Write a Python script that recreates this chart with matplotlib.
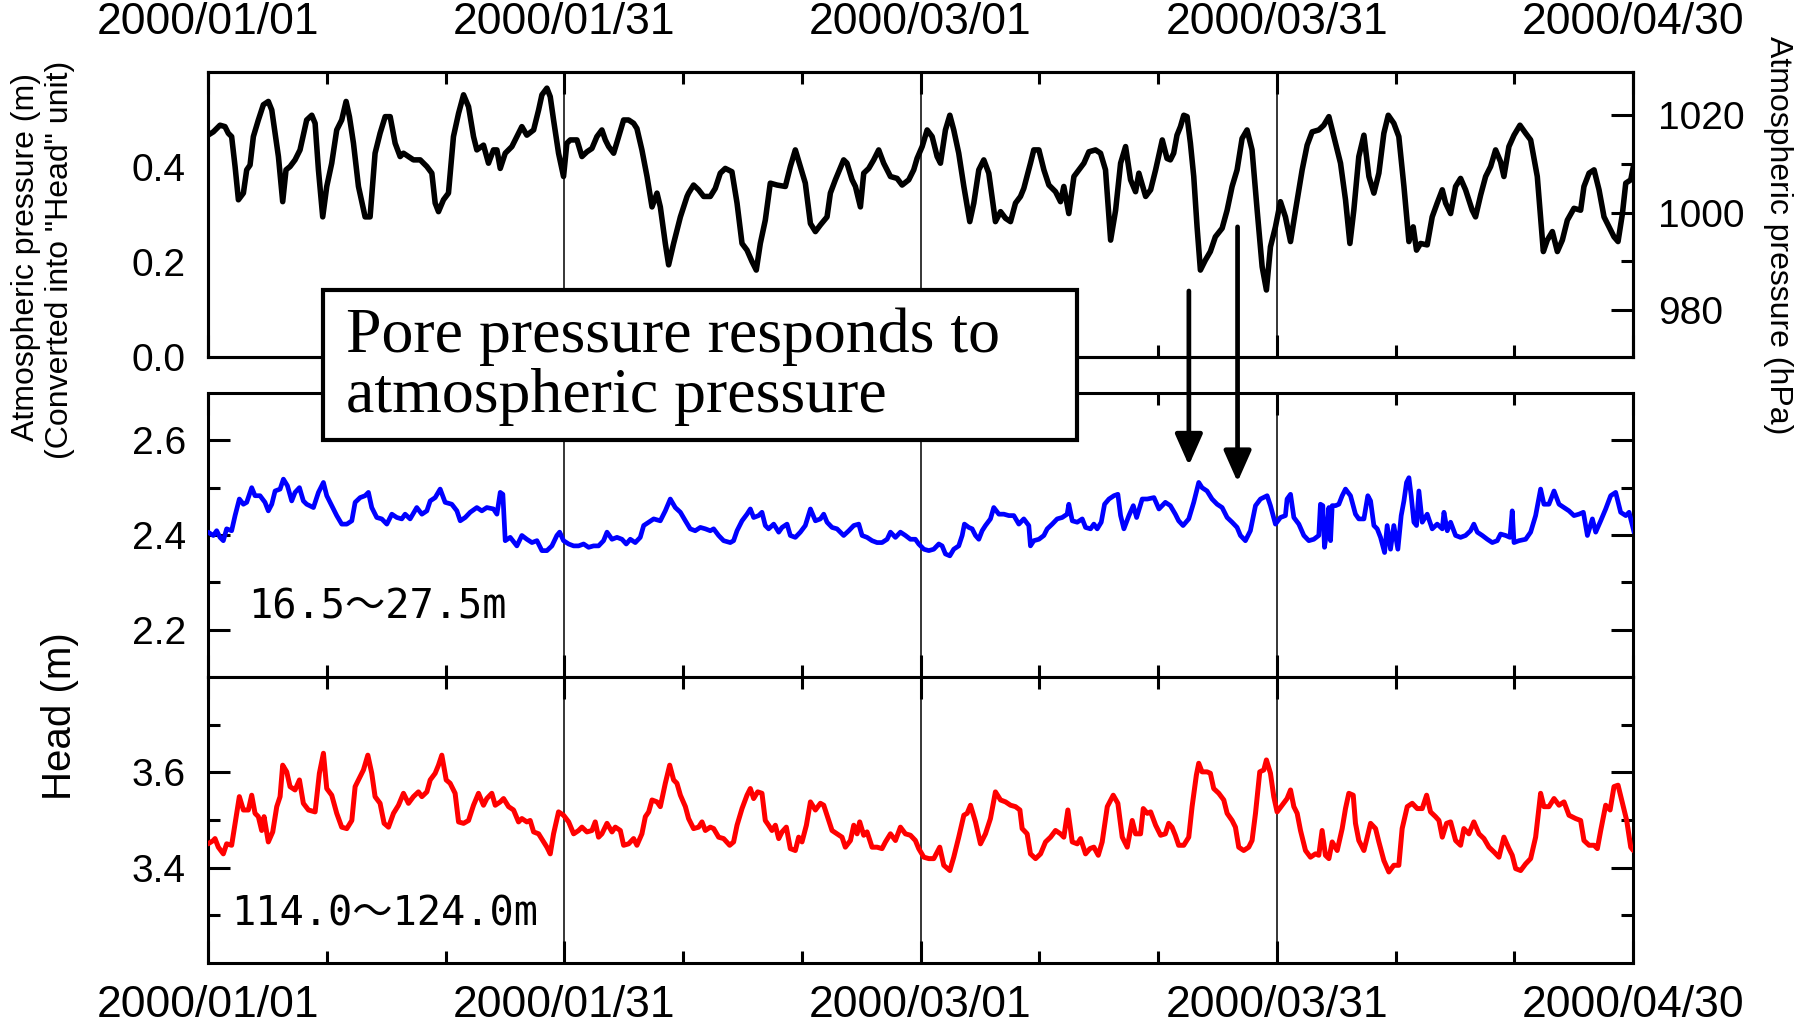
import matplotlib.pyplot as plt
from matplotlib.patches import Rectangle, ConnectionPatch
from matplotlib.ticker import FormatStrFormatter

plt.rcParams['font.family'] = ['Liberation Sans', 'DejaVu Sans']

# x axis: days since 2000/01/01
date_pos = [0, 30, 60, 90, 120]
date_labels = ['2000/01/01', '2000/01/31', '2000/03/01', '2000/03/31', '2000/04/30']
minor_pos = [10, 20, 40, 50, 70, 80, 100, 110]

# atmospheric pressure, converted into head (m)
atm_days = [
    0.0, 0.45, 1.01, 1.43, 1.71, 1.99, 2.28, 2.56, 2.98, 3.26, 3.54, 3.82, 4.24, 4.66, 5.08, 5.37,
    5.65, 5.93, 6.29, 6.57, 6.91, 7.33, 7.75, 8.31, 8.74, 9.02, 9.30, 9.66, 10.0, 10.42, 10.84,
    11.26, 11.63, 11.91, 12.25, 12.67, 13.23, 13.65, 14.07, 14.49, 14.92, 15.34, 15.76, 16.18,
    16.46, 16.88, 17.30, 17.87, 18.43, 18.85, 19.13, 19.41, 19.83, 20.25, 20.67, 21.10, 21.52,
    21.94, 22.36, 22.64, 23.20, 23.62, 24.04, 24.33, 24.61, 25.03, 25.59, 26.01, 26.43, 26.85,
    27.42, 27.84, 28.12, 28.54, 28.82, 29.10, 29.52, 29.94, 30.22, 30.51, 31.07, 31.49, 31.91,
    32.33, 32.75, 33.17, 33.46, 33.74, 34.16, 34.58, 35.0, 35.42, 35.84, 36.12, 36.54, 36.97,
    37.39, 37.81, 38.09, 38.51, 38.79, 39.21, 39.78, 40.34,
    40.47, 40.89, 41.31, 41.74, 42.30, 42.72, 43.14, 43.56, 44.12, 44.55, 44.97, 45.39, 45.81,
    46.17, 46.51, 46.93, 47.35, 47.92, 48.62, 49.04, 49.46, 49.88, 50.30, 50.73, 51.15, 51.57,
    52.13, 52.41, 52.83, 53.53, 53.81, 54.24, 54.52, 54.94, 55.22, 55.64, 56.06, 56.48, 56.90,
    57.47, 58.03, 58.45, 59.01, 59.43, 59.71, 60.14, 60.56, 60.98, 61.40, 61.68, 62.10, 62.47,
    62.80, 63.22, 63.65, 64.15, 64.49, 64.91, 65.33, 65.75, 66.31, 66.74, 67.16, 67.58, 68.00,
    68.42, 68.70, 69.26, 69.54, 69.97, 70.39, 70.81, 71.37, 71.79, 72.07, 72.49, 72.92, 73.34,
    73.76, 74.18, 74.74, 75.16, 75.58, 76.01, 76.43, 76.85, 77.27, 77.69, 78.11, 78.39, 78.96,
    79.38, 79.80, 80.36,
    80.76, 81.04, 81.32, 81.60, 81.89, 82.17, 82.45, 82.73, 83.01, 83.29, 83.57, 83.99, 84.41,
    84.83, 85.40, 85.82, 86.24, 86.66, 87.08, 87.50, 87.92, 88.35, 88.77, 89.13, 89.47, 89.89,
    90.31, 90.73, 91.16, 91.58, 92.14, 92.56, 92.98, 93.54, 93.96, 94.39, 94.81, 95.37, 95.79,
    96.16, 96.49, 96.91, 97.34, 97.76, 98.18, 98.60, 99.02, 99.39, 99.86, 100.28, 100.71, 101.13,
    101.49, 101.77, 102.11, 102.67, 103.09, 103.51, 103.94, 104.22, 104.64, 105.06, 105.48,
    105.90, 106.46, 106.74, 107.17, 107.59, 108.01, 108.43, 108.85, 109.13, 109.55, 109.98,
    110.48, 110.96, 111.38, 111.94, 112.45, 112.78, 113.21, 113.63, 114.05, 114.47, 115.03,
    115.59, 115.87, 116.30, 116.72, 117.14, 117.56, 117.98, 118.40, 118.74, 119.11, 119.39,
    119.81, 120.03]
atm_head = [
    0.467, 0.474, 0.488, 0.485, 0.471, 0.464, 0.401, 0.331, 0.345, 0.394, 0.404, 0.464, 0.499,
    0.531, 0.538, 0.520, 0.471, 0.422, 0.327, 0.394, 0.401, 0.415, 0.436, 0.499, 0.509, 0.492,
    0.394, 0.295, 0.359, 0.408, 0.478, 0.499, 0.538, 0.506, 0.450, 0.359, 0.295, 0.295, 0.429,
    0.471, 0.506, 0.506, 0.450, 0.422, 0.429, 0.422, 0.415, 0.415, 0.401, 0.387, 0.324, 0.306,
    0.331, 0.345, 0.464, 0.513, 0.552, 0.527, 0.464, 0.436, 0.446, 0.408, 0.436, 0.436, 0.397,
    0.429, 0.443, 0.464, 0.485, 0.467, 0.478, 0.520, 0.552, 0.566, 0.548, 0.499, 0.429, 0.380,
    0.450, 0.457, 0.457, 0.422, 0.432, 0.439, 0.464, 0.478, 0.457, 0.443, 0.429, 0.464, 0.499,
    0.499, 0.492, 0.481, 0.436, 0.380, 0.316, 0.345, 0.316, 0.239, 0.194, 0.239, 0.295, 0.338,
    0.345, 0.362, 0.352, 0.338, 0.338, 0.355, 0.387, 0.397, 0.390, 0.324, 0.239, 0.225, 0.201,
    0.183, 0.239, 0.288, 0.366, 0.362, 0.359, 0.401, 0.436, 0.401, 0.366, 0.281, 0.264, 0.278,
    0.295, 0.345, 0.373, 0.415, 0.408, 0.373, 0.359, 0.316, 0.387, 0.397, 0.415, 0.436, 0.408,
    0.380, 0.376, 0.362, 0.373, 0.394, 0.418, 0.443, 0.478, 0.464, 0.422, 0.408, 0.478, 0.509,
    0.478, 0.429, 0.359, 0.285, 0.324, 0.394, 0.415, 0.387, 0.285, 0.306, 0.292, 0.285, 0.324,
    0.338, 0.355, 0.408, 0.436, 0.436, 0.394, 0.362, 0.348, 0.327, 0.359, 0.302, 0.380, 0.394,
    0.408, 0.432, 0.436, 0.429, 0.394, 0.246, 0.309, 0.408, 0.443, 0.373, 0.348, 0.387, 0.338,
    0.352, 0.394, 0.457,
    0.418, 0.415, 0.429, 0.467, 0.485, 0.509, 0.506, 0.450, 0.380, 0.274, 0.183, 0.204, 0.222,
    0.253, 0.271, 0.309, 0.359, 0.394, 0.460, 0.478, 0.436, 0.309, 0.190, 0.141, 0.232, 0.274,
    0.327, 0.295, 0.243, 0.309, 0.394, 0.446, 0.474, 0.478, 0.488, 0.506, 0.464, 0.408, 0.331,
    0.239, 0.309, 0.422, 0.467, 0.380, 0.345, 0.387, 0.471, 0.509, 0.492, 0.464, 0.359, 0.243,
    0.274, 0.225, 0.239, 0.236, 0.295, 0.324, 0.352, 0.324, 0.302, 0.359, 0.376, 0.352, 0.309,
    0.295, 0.341, 0.380, 0.401, 0.436, 0.411, 0.380, 0.443, 0.467, 0.488, 0.471, 0.457, 0.380,
    0.222, 0.246, 0.264, 0.222, 0.246, 0.288, 0.313, 0.309, 0.359, 0.387, 0.394, 0.352, 0.295,
    0.274, 0.253, 0.243, 0.302, 0.366, 0.373, 0.401]

# head at 16.5-27.5 m
shallow_days = [
    0.0, 0.45, 0.73, 1.01, 1.29, 1.57, 1.99, 2.28, 2.64, 2.98, 3.26, 3.68, 3.96, 4.38, 4.80, 5.08,
    5.37, 5.65, 6.07, 6.35, 6.69, 7.05, 7.33, 7.70, 8.03, 8.31, 8.88, 9.30, 9.72, 10.0, 10.42,
    10.84, 11.26, 11.69, 12.11, 12.39, 12.81, 13.23, 13.51, 13.79, 14.21, 14.63, 15.06, 15.48,
    15.90, 16.32, 16.60, 17.02, 17.58, 18.01, 18.43, 18.71, 19.13, 19.55, 19.97, 20.53, 20.96,
    21.24, 21.66, 22.08, 22.64, 23.06, 23.48, 24.04, 24.33, 24.61, 24.83, 25.03, 25.45, 26.01,
    26.43, 26.85, 27.28, 27.70, 28.12, 28.54, 28.96, 29.38, 29.61, 29.94, 30.37, 30.79, 31.21,
    31.63, 32.05, 32.47, 32.89, 33.31, 33.60, 34.02, 34.44, 34.86, 35.22, 35.56, 35.98, 36.40,
    36.69, 37.11, 37.53, 38.09, 38.51, 38.93, 39.35, 39.78, 40.20,
    40.61, 41.03, 41.46, 41.88, 42.30, 42.58, 43.00, 43.42, 43.98, 44.26, 44.55, 44.97, 45.39,
    45.67, 45.95, 46.37, 46.65, 46.93, 47.21, 47.64, 48.06, 48.34, 48.76, 49.04, 49.46, 49.88,
    50.30, 50.73, 51.15, 51.57, 51.85, 52.13, 52.55, 52.97, 53.53, 53.96, 54.38, 54.80, 55.08,
    55.50, 55.92, 56.34, 56.76, 57.19, 57.47, 57.89, 58.31, 58.73, 59.15, 59.57, 59.85, 60.28,
    60.70, 61.12, 61.54, 61.82, 62.10, 62.47, 62.80, 63.22, 63.51, 63.70, 64.07, 64.35, 64.63,
    64.91, 65.19, 65.47, 65.89, 66.17, 66.60, 67.02, 67.44, 67.86, 68.28, 68.70, 69.12, 69.26,
    69.54, 69.97, 70.39, 70.67, 71.09, 71.51, 71.93, 72.35, 72.49, 72.78, 73.20, 73.62, 73.90,
    74.32, 74.60, 74.88, 75.22, 75.50, 75.87, 76.29, 76.62, 76.85, 77.13, 77.55, 77.92, 78.20,
    78.67, 79.10, 79.66, 80.08,
    80.62, 81.04, 81.46, 81.74, 82.11, 82.59, 83.01, 83.43, 83.71, 84.13, 84.55, 84.98, 85.40,
    85.82, 86.24, 86.66, 86.94, 87.36, 87.78, 88.21, 88.63, 89.19, 89.47, 89.89, 90.31, 90.73,
    90.87, 91.16, 91.44, 91.86, 92.28, 92.70, 93.12, 93.54, 93.68, 93.88, 94.02, 94.24, 94.39,
    94.53, 94.67, 94.95, 95.23, 95.51, 95.79, 96.21, 96.63, 96.91, 97.34, 97.67, 97.90, 98.18,
    98.46, 98.74, 99.08, 99.30, 99.58, 99.86, 100.20, 100.48, 100.71, 100.93, 101.13, 101.32,
    101.55, 101.77, 101.97, 102.25, 102.67, 103.09, 103.51, 103.94, 104.08, 104.36, 104.64,
    105.06, 105.48, 105.90, 106.32, 106.60, 106.89, 107.31, 107.73, 108.15, 108.57, 108.85,
    109.27, 109.64, 109.83, 109.98, 110.40, 110.96, 111.38, 111.80, 112.22, 112.50, 112.92,
    113.35, 113.77, 114.19, 114.61, 115.03, 115.45, 115.82, 116.16, 116.58, 116.86, 117.28,
    117.70, 118.12, 118.54, 118.96, 119.39, 119.67, 120.09]
shallow_head = [
    2.406, 2.399, 2.409, 2.395, 2.388, 2.413, 2.409, 2.441, 2.476, 2.465, 2.469, 2.500, 2.483,
    2.483, 2.469, 2.451, 2.465, 2.493, 2.497, 2.518, 2.504, 2.472, 2.490, 2.500, 2.472, 2.465,
    2.458, 2.490, 2.511, 2.483, 2.462, 2.441, 2.423, 2.423, 2.430, 2.469, 2.479, 2.483, 2.490,
    2.458, 2.437, 2.434, 2.423, 2.444, 2.437, 2.434, 2.444, 2.434, 2.458, 2.444, 2.451, 2.472,
    2.479, 2.497, 2.469, 2.465, 2.451, 2.430, 2.437, 2.448, 2.458, 2.451, 2.458, 2.455, 2.444,
    2.490, 2.486, 2.388, 2.395, 2.377, 2.399, 2.391, 2.384, 2.388, 2.367, 2.367, 2.377, 2.399,
    2.406, 2.388, 2.381, 2.377, 2.377, 2.381, 2.374, 2.377, 2.377, 2.388, 2.406, 2.391, 2.395,
    2.391, 2.381, 2.391, 2.384, 2.395, 2.420, 2.427, 2.434, 2.430, 2.451, 2.476, 2.458, 2.448,
    2.430,
    2.413, 2.409, 2.416, 2.413, 2.409, 2.413, 2.399, 2.388, 2.384, 2.388, 2.409, 2.430, 2.444,
    2.455, 2.437, 2.441, 2.448, 2.420, 2.413, 2.423, 2.406, 2.416, 2.423, 2.399, 2.395, 2.406,
    2.420, 2.455, 2.430, 2.434, 2.444, 2.427, 2.416, 2.413, 2.399, 2.409, 2.420, 2.423, 2.399,
    2.395, 2.388, 2.384, 2.384, 2.391, 2.406, 2.395, 2.406, 2.399, 2.391, 2.391, 2.381, 2.370,
    2.367, 2.370, 2.381, 2.377, 2.360, 2.356, 2.370, 2.377, 2.399, 2.423, 2.416, 2.413, 2.399,
    2.391, 2.409, 2.420, 2.434, 2.458, 2.444, 2.444, 2.441, 2.441, 2.423, 2.434, 2.420, 2.377,
    2.388, 2.391, 2.399, 2.413, 2.423, 2.434, 2.437, 2.444, 2.465, 2.430, 2.427, 2.434, 2.416,
    2.413, 2.423, 2.413, 2.427, 2.465, 2.476, 2.483, 2.486, 2.441, 2.413, 2.441, 2.462, 2.437,
    2.476, 2.476, 2.479, 2.455,
    2.469, 2.462, 2.444, 2.430, 2.420, 2.434, 2.469, 2.511, 2.500, 2.493, 2.476, 2.465, 2.458,
    2.437, 2.427, 2.416, 2.399, 2.388, 2.409, 2.462, 2.476, 2.483, 2.462, 2.423, 2.437, 2.441,
    2.476, 2.486, 2.437, 2.423, 2.399, 2.388, 2.391, 2.399, 2.465, 2.462, 2.374, 2.413, 2.458,
    2.388, 2.462, 2.462, 2.465, 2.483, 2.497, 2.483, 2.444, 2.434, 2.434, 2.483, 2.472, 2.420,
    2.413, 2.395, 2.363, 2.420, 2.370, 2.420, 2.370, 2.441, 2.472, 2.511, 2.521, 2.483, 2.427,
    2.420, 2.493, 2.427, 2.444, 2.413, 2.423, 2.413, 2.448, 2.409, 2.427, 2.399, 2.395, 2.399,
    2.409, 2.423, 2.406, 2.399, 2.391, 2.384, 2.388, 2.402, 2.399, 2.395, 2.451, 2.384, 2.388,
    2.391, 2.406, 2.441, 2.497, 2.465, 2.465, 2.493, 2.465, 2.458, 2.451, 2.441, 2.444, 2.448,
    2.399, 2.434, 2.406, 2.430, 2.455, 2.483, 2.490, 2.448, 2.441, 2.448, 2.406]

# head at 114.0-124.0 m
deep_days = [
    0.0, 0.45, 0.59, 0.87, 1.29, 1.57, 1.99, 2.28, 2.64, 2.98, 3.40, 3.68, 3.96, 4.24, 4.52, 4.72,
    5.08, 5.45, 5.79, 6.07, 6.29, 6.63, 6.91, 7.33, 7.70, 8.03, 8.46, 9.02, 9.38, 9.72, 10.0,
    10.42, 10.84, 11.26, 11.69, 12.11, 12.39, 12.81, 13.09, 13.46, 13.79, 14.07, 14.49, 14.83,
    15.20, 15.62, 16.04, 16.46, 16.88, 17.30, 17.72, 18.01, 18.43, 18.71, 19.13, 19.41, 19.69,
    20.06, 20.39, 20.81, 21.10, 21.52, 21.94, 22.36, 22.78, 23.20, 23.48, 23.90, 24.19, 24.61,
    24.89, 25.31, 25.73, 26.15, 26.43, 26.85, 27.13, 27.42, 27.84, 28.26, 28.54, 28.82, 29.10,
    29.52, 29.94, 30.37, 30.79, 31.21, 31.49, 31.91, 32.33, 32.61, 32.89, 33.17, 33.60, 34.02,
    34.30, 34.72, 35.00, 35.42, 35.84, 36.12, 36.54, 36.83, 37.11, 37.39, 37.81, 38.09, 38.51,
    38.88, 39.21, 39.49, 39.78, 40.20,
    40.47, 40.89, 41.31, 41.60, 41.88, 42.30, 42.58, 43.00, 43.42, 43.93, 44.26, 44.55, 44.97,
    45.39, 45.67, 45.95, 46.29, 46.65, 46.93, 47.21, 47.49, 47.78, 48.06, 48.34, 48.70, 49.04,
    49.46, 49.74, 50.02, 50.39, 50.73, 51.15, 51.57, 51.85, 52.13, 52.55, 52.97, 53.39, 53.67,
    54.10, 54.38, 54.66, 54.88, 55.22, 55.50, 55.92, 56.34, 56.76, 57.05, 57.47, 57.89, 58.31,
    58.73, 59.15, 59.57, 59.85, 60.28, 60.70, 61.12, 61.62, 61.96, 62.47, 62.80, 63.22, 63.65,
    63.93, 64.21, 64.63, 65.05, 65.47, 65.89, 66.31, 66.74, 67.16, 67.58, 68.00, 68.37, 68.56,
    68.98, 69.26, 69.69, 70.11, 70.53, 70.95, 71.37, 71.79, 72.07, 72.41, 72.78, 73.20, 73.48,
    73.90, 74.27, 74.60, 74.97, 75.30, 75.73, 76.23, 76.62, 76.99, 77.41, 77.83, 78.11, 78.53,
    78.76, 79.10, 79.38, 79.80, 80.22,
    80.62, 80.90, 81.18, 81.46, 81.74, 82.17, 82.59, 82.87, 83.23, 83.43, 83.71, 84.13, 84.41,
    84.69, 85.12, 85.54, 85.82, 86.24, 86.52, 86.80, 87.22, 87.64, 87.92, 88.21, 88.57, 88.91,
    89.13, 89.47, 89.75, 90.03, 90.45, 90.87, 91.16, 91.44, 91.72, 92.00, 92.42, 92.84, 93.26,
    93.54, 93.82, 94.10, 94.39, 94.67, 95.09, 95.51, 95.79, 96.07, 96.44, 96.63, 96.91, 97.34,
    97.62, 97.90, 98.32, 98.60, 99.02, 99.44, 99.86, 100.28, 100.56, 100.99, 101.41, 101.83,
    102.25, 102.62, 102.95, 103.37, 103.66, 103.94, 104.30, 104.64, 105.06, 105.48, 105.76,
    106.18, 106.60, 107.03, 107.45, 107.87, 108.29, 108.71, 109.13, 109.55, 109.83, 110.12,
    110.54, 110.96, 111.38, 111.80, 112.22, 112.50, 112.92, 113.35, 113.77, 114.19, 114.61,
    115.17, 115.59, 115.87, 116.30, 116.72, 117.00, 117.28, 117.70, 118.07, 118.40, 118.74,
    119.11, 119.47, 119.81, 120.03]
deep_head = [
    3.450, 3.457, 3.461, 3.443, 3.429, 3.450, 3.447, 3.493, 3.549, 3.521, 3.521, 3.552, 3.514,
    3.507, 3.478, 3.507, 3.454, 3.475, 3.528, 3.549, 3.615, 3.601, 3.570, 3.563, 3.584, 3.535,
    3.521, 3.517, 3.598, 3.640, 3.566, 3.552, 3.514, 3.485, 3.482, 3.499, 3.570, 3.591, 3.605,
    3.636, 3.598, 3.549, 3.535, 3.493, 3.485, 3.514, 3.531, 3.556, 3.535, 3.549, 3.559, 3.549,
    3.559, 3.584, 3.598, 3.615, 3.636, 3.584, 3.577, 3.556, 3.496, 3.493, 3.499, 3.531, 3.556,
    3.531, 3.545, 3.556, 3.531, 3.538, 3.545, 3.528, 3.521, 3.496, 3.503, 3.496, 3.499, 3.475,
    3.471, 3.454, 3.443, 3.429, 3.471, 3.517, 3.510, 3.496, 3.471, 3.478, 3.485, 3.475, 3.478,
    3.496, 3.464, 3.471, 3.493, 3.475, 3.485, 3.478, 3.447, 3.450, 3.461, 3.447, 3.471, 3.507,
    3.517, 3.542, 3.538, 3.528, 3.577, 3.615, 3.584, 3.577, 3.552, 3.528,
    3.503, 3.482, 3.485, 3.496, 3.478, 3.485, 3.482, 3.464, 3.461, 3.447, 3.454, 3.489, 3.524,
    3.552, 3.566, 3.545, 3.559, 3.556, 3.499, 3.489, 3.478, 3.489, 3.461, 3.475, 3.485, 3.440,
    3.436, 3.464, 3.454, 3.489, 3.538, 3.521, 3.535, 3.531, 3.510, 3.478, 3.471, 3.464, 3.443,
    3.457, 3.489, 3.471, 3.496, 3.468, 3.475, 3.443, 3.443, 3.440, 3.454, 3.471, 3.457, 3.485,
    3.471, 3.468, 3.457, 3.440, 3.422, 3.419, 3.419, 3.443, 3.405, 3.394, 3.422, 3.464, 3.510,
    3.514, 3.531, 3.496, 3.450, 3.471, 3.503, 3.559, 3.542, 3.538, 3.531, 3.528, 3.521, 3.482,
    3.471, 3.429, 3.419, 3.429, 3.454, 3.464, 3.478, 3.471, 3.464, 3.521, 3.454, 3.450, 3.461,
    3.429, 3.440, 3.443, 3.426, 3.454, 3.528, 3.552, 3.535, 3.464, 3.443, 3.499, 3.471, 3.471,
    3.524, 3.514, 3.517, 3.489, 3.468,
    3.471, 3.493, 3.485, 3.468, 3.447, 3.447, 3.464, 3.528, 3.594, 3.619, 3.601, 3.601, 3.598,
    3.566, 3.556, 3.542, 3.514, 3.499, 3.485, 3.443, 3.436, 3.443, 3.457, 3.514, 3.601, 3.605,
    3.626, 3.598, 3.549, 3.517, 3.531, 3.545, 3.563, 3.528, 3.514, 3.478, 3.436, 3.422, 3.429,
    3.426, 3.478, 3.426, 3.419, 3.454, 3.436, 3.482, 3.524, 3.556, 3.552, 3.493, 3.457, 3.436,
    3.464, 3.493, 3.482, 3.454, 3.415, 3.391, 3.405, 3.405, 3.482, 3.528, 3.535, 3.524, 3.524,
    3.552, 3.517, 3.507, 3.499, 3.464, 3.493, 3.496, 3.457, 3.447, 3.482, 3.471, 3.496, 3.471,
    3.461, 3.443, 3.433, 3.422, 3.464, 3.440, 3.426, 3.398, 3.394, 3.408, 3.419, 3.464, 3.556,
    3.528, 3.528, 3.545, 3.531, 3.538, 3.510, 3.503, 3.499, 3.457, 3.447, 3.447, 3.440, 3.478,
    3.531, 3.521, 3.570, 3.573, 3.535, 3.499, 3.443, 3.436]

# annotation arrows: (day, start in top panel, tip in middle panel)
arrow_specs = [(82.6, 0.139, 2.547), (86.7, 0.274, 2.512)]

W, H = 1810, 1028
fig = plt.figure(figsize=(W / 100, H / 100), dpi=100)


def px_rect(x0, y0, x1, y1):
    return [x0 / W, 1 - y1 / H, (x1 - x0) / W, (y1 - y0) / H]


ax_atm = fig.add_axes(px_rect(208, 72, 1633, 357))
ax_sh = fig.add_axes(px_rect(208, 393, 1633, 677))
ax_dp = fig.add_axes(px_rect(208, 677, 1633, 963))

for ax in (ax_atm, ax_sh, ax_dp):
    ax.set_xlim(0, 120)
    ax.set_xticks(date_pos)
    ax.set_xticks(minor_pos, minor=True)
    ax.set_xticklabels(date_labels)
    ax.tick_params(axis='both', which='both', direction='in', width=2.2,
                   top=True, bottom=True, left=True, right=True,
                   labelbottom=False, labeltop=False)
    ax.tick_params(which='major', length=16)
    ax.tick_params(which='minor', length=8.5)
    ax.tick_params(axis='y', labelsize=28, pad=16)
    ax.tick_params(axis='x', labelsize=32)
    for sp in ax.spines.values():
        sp.set_linewidth(2.2)
    for d in date_pos[1:-1]:
        ax.axvline(d, color='black', lw=1.1, zorder=1)

line_kw = dict(solid_joinstyle='round', solid_capstyle='round', zorder=3)

# top panel
ax_atm.plot(atm_days, atm_head, color='black', lw=4.0, **line_kw)
ax_atm.set_ylim(0, 0.6)
ax_atm.set_yticks([0.0, 0.2, 0.4])
ax_atm.yaxis.set_major_formatter(FormatStrFormatter('%.1f'))
ax_atm.tick_params(axis='x', labeltop=True, pad=21)

ax_hpa = ax_atm.twinx()
ax_hpa.set_ylim(970.25, 1028.96)
ax_hpa.set_yticks([980, 1000, 1020])
ax_hpa.set_yticks([990, 1010], minor=True)
ax_hpa.tick_params(axis='y', which='both', direction='in', width=2.2, labelsize=28, pad=18)
ax_hpa.tick_params(which='major', length=16)
ax_hpa.tick_params(which='minor', length=8.5)
for sp in ax_hpa.spines.values():
    sp.set_linewidth(2.2)
ax_atm.tick_params(axis='y', which='both', length=0, right=False)

# middle panel
ax_sh.plot(shallow_days, shallow_head, color='#0000ff', lw=3.4, **line_kw)
ax_sh.set_ylim(2.1, 2.7)
ax_sh.set_yticks([2.2, 2.4, 2.6])
ax_sh.set_yticks([2.3, 2.5], minor=True)
ax_sh.yaxis.set_major_formatter(FormatStrFormatter('%.1f'))

# bottom panel
ax_dp.plot(deep_days, deep_head, color='#ff0000', lw=3.6, **line_kw)
ax_dp.set_ylim(3.2, 3.8)
ax_dp.set_yticks([3.4, 3.6])
ax_dp.set_yticks([3.3, 3.5, 3.7], minor=True)
ax_dp.yaxis.set_major_formatter(FormatStrFormatter('%.1f'))
ax_dp.tick_params(axis='x', labelbottom=True, pad=16)

depth_font = ['DejaVu Sans Mono', 'Noto Sans CJK JP']
ax_sh.text(0.028, 0.243, '16.5～27.5m', transform=ax_sh.transAxes, va='center',
           fontsize=29, family=depth_font)
ax_dp.text(0.016, 0.171, '114.0～124.0m', transform=ax_dp.transAxes, va='center',
           fontsize=29, family=depth_font)

# axis titles
fig.text(26 / W, 1 - 257 / H, 'Atmospheric pressure (m)', rotation=90,
         ha='center', va='center', fontsize=23)
fig.text(60 / W, 1 - 260 / H, '(Converted into "Head" unit)', rotation=90,
         ha='center', va='center', fontsize=23)
fig.text(60 / W, 1 - 716 / H, 'Head (m)', rotation=90, ha='center', va='center', fontsize=29)
fig.text(1778 / W, 1 - 235 / H, 'Atmospheric pressure (hPa)', rotation=-90,
         ha='center', va='center', fontsize=23)

# annotation box
box = Rectangle((323 / W, 1 - 440 / H), 754 / W, 150 / H, transform=fig.transFigure,
                facecolor='white', edgecolor='black', lw=3, zorder=5)
fig.add_artist(box)
serif = ['Liberation Serif', 'DejaVu Serif']
fig.text(346 / W, 1 - 352 / H, 'Pore pressure responds to', fontsize=46, family=serif,
         va='baseline', zorder=6)
fig.text(346 / W, 1 - 412 / H, 'atmospheric pressure', fontsize=46, family=serif,
         va='baseline', zorder=6)

for day, y_start, y_tip in arrow_specs:
    arr = ConnectionPatch(xyA=(day, y_start), coordsA=ax_atm.transData,
                          xyB=(day, y_tip), coordsB=ax_sh.transData,
                          arrowstyle='-|>,head_length=0.95,head_width=0.42',
                          mutation_scale=20, lw=3.4, color='black', zorder=7)
    fig.add_artist(arr)

fig.savefig('out.png', dpi=100)
